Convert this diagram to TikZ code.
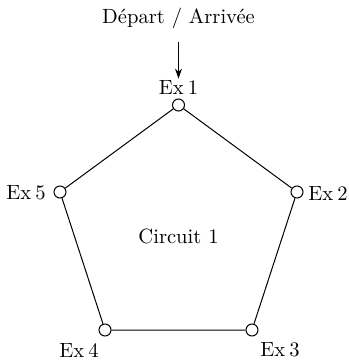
\documentclass[tikz,border=0pt]{standalone}
\usetikzlibrary{arrows.meta}
\newcommand{\exl}[1]{Ex\hspace{2pt}#1}
\begin{document}
\begin{tikzpicture}[x=0.5pt,y=-0.5pt,
  vertex/.style={circle,draw,line width=0.5pt,inner sep=0pt,minimum size=6pt},
  lbl/.style={font=\fontsize{10.3}{12}\selectfont,inner sep=0.5pt},
  edge/.style={line width=0.5pt}]
\useasboundingbox (0,0) rectangle (349,361);
\node[vertex] (e1) at (178.5,105) {};
\node[vertex] (e2) at (297,192) {};
\node[vertex] (e3) at (252,330) {};
\node[vertex] (e4) at (105,330) {};
\node[vertex] (e5) at (60,192) {};
\draw[edge] (e1) -- (e2) -- (e3) -- (e4) -- (e5) -- (e1);
\node[lbl] (l1) at (178.5,87) {\exl{1}};
\node[lbl,anchor=east] (l2) at (349,193) {\exl{2}};
\node[lbl] (l3) at (280,350) {\exl{3}};
\node[lbl] (l4) at (79,350) {\exl{4}};
\node[lbl,anchor=east] (l5) at (47,193) {\exl{5}};
\node[lbl] (c) at (178.5,236) {Circuit 1};
\node[lbl] (d) at (178.5,18) {Départ / Arrivée};
\coordinate (a0) at (178.5,42);
\draw[edge,-{Stealth[length=5pt,width=3.5pt]}] (a0) -- (l1.north);
\end{tikzpicture}
\end{document}
